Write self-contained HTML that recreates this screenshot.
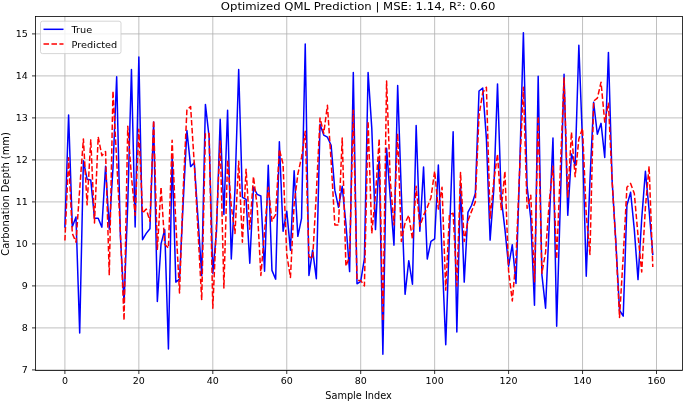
<!DOCTYPE html>
<html><head><meta charset="utf-8"><title>Optimized QML Prediction</title>
<style>
html,body{margin:0;padding:0;background:#fff;}
svg{display:block;}
text{font-family:"DejaVu Sans","Liberation Sans",sans-serif;fill:#000;}
</style></head><body>
<svg width="685" height="402" viewBox="0 0 685 402">
<rect x="0" y="0" width="685" height="402" fill="#fff"/>
<defs><clipPath id="c"><rect x="35.5" y="16.5" width="647.0" height="354.0"/></clipPath></defs>

<g stroke="#b0b0b0" stroke-width="0.8" fill="none">
<line x1="64.90" y1="16.5" x2="64.90" y2="370.5"/>
<line x1="138.85" y1="16.5" x2="138.85" y2="370.5"/>
<line x1="212.80" y1="16.5" x2="212.80" y2="370.5"/>
<line x1="286.75" y1="16.5" x2="286.75" y2="370.5"/>
<line x1="360.70" y1="16.5" x2="360.70" y2="370.5"/>
<line x1="434.65" y1="16.5" x2="434.65" y2="370.5"/>
<line x1="508.60" y1="16.5" x2="508.60" y2="370.5"/>
<line x1="582.55" y1="16.5" x2="582.55" y2="370.5"/>
<line x1="656.50" y1="16.5" x2="656.50" y2="370.5"/>
<line x1="35.5" y1="369.90" x2="682.5" y2="369.90"/>
<line x1="35.5" y1="327.90" x2="682.5" y2="327.90"/>
<line x1="35.5" y1="285.90" x2="682.5" y2="285.90"/>
<line x1="35.5" y1="243.90" x2="682.5" y2="243.90"/>
<line x1="35.5" y1="201.90" x2="682.5" y2="201.90"/>
<line x1="35.5" y1="159.90" x2="682.5" y2="159.90"/>
<line x1="35.5" y1="117.90" x2="682.5" y2="117.90"/>
<line x1="35.5" y1="75.90" x2="682.5" y2="75.90"/>
<line x1="35.5" y1="33.90" x2="682.5" y2="33.90"/>
</g>
<g stroke="#000" stroke-width="0.8" fill="none">
<line x1="64.90" y1="370.5" x2="64.90" y2="374.0"/>
<line x1="138.85" y1="370.5" x2="138.85" y2="374.0"/>
<line x1="212.80" y1="370.5" x2="212.80" y2="374.0"/>
<line x1="286.75" y1="370.5" x2="286.75" y2="374.0"/>
<line x1="360.70" y1="370.5" x2="360.70" y2="374.0"/>
<line x1="434.65" y1="370.5" x2="434.65" y2="374.0"/>
<line x1="508.60" y1="370.5" x2="508.60" y2="374.0"/>
<line x1="582.55" y1="370.5" x2="582.55" y2="374.0"/>
<line x1="656.50" y1="370.5" x2="656.50" y2="374.0"/>
<line x1="32.0" y1="369.90" x2="35.5" y2="369.90"/>
<line x1="32.0" y1="327.90" x2="35.5" y2="327.90"/>
<line x1="32.0" y1="285.90" x2="35.5" y2="285.90"/>
<line x1="32.0" y1="243.90" x2="35.5" y2="243.90"/>
<line x1="32.0" y1="201.90" x2="35.5" y2="201.90"/>
<line x1="32.0" y1="159.90" x2="35.5" y2="159.90"/>
<line x1="32.0" y1="117.90" x2="35.5" y2="117.90"/>
<line x1="32.0" y1="75.90" x2="35.5" y2="75.90"/>
<line x1="32.0" y1="33.90" x2="35.5" y2="33.90"/>
</g>
<g clip-path="url(#c)" fill="none" stroke-linejoin="round">
<path d="M64.90,227.10 L68.60,114.96 L72.30,226.68 L75.99,217.02 L79.69,332.94 L83.39,160.74 L87.09,179.22 L90.78,180.06 L94.48,218.28 L98.18,218.28 L101.88,227.10 L105.57,166.20 L109.27,229.20 L112.97,168.30 L116.67,76.74 L120.36,235.50 L124.06,302.70 L127.76,204.00 L131.45,69.60 L135.15,227.10 L138.85,57.00 L142.55,239.70 L146.25,233.40 L149.94,228.78 L153.64,122.10 L157.34,301.44 L161.03,243.90 L164.73,229.62 L168.43,348.90 L172.13,155.70 L175.82,282.12 L179.52,279.18 L183.22,201.90 L186.92,130.50 L190.62,166.62 L194.31,162.84 L198.01,218.70 L201.71,275.40 L205.41,104.46 L209.10,136.80 L212.80,273.30 L216.50,231.30 L220.19,119.16 L223.89,214.50 L227.59,110.34 L231.29,259.02 L234.98,189.30 L238.68,69.60 L242.38,197.28 L246.08,199.38 L249.78,263.22 L253.47,187.20 L257.17,194.34 L260.87,196.02 L264.56,271.20 L268.26,165.36 L271.96,270.36 L275.66,279.18 L279.36,141.84 L283.05,231.30 L286.75,211.14 L290.45,250.20 L294.14,170.82 L297.84,236.34 L301.54,218.28 L305.24,43.98 L308.94,275.40 L312.63,250.20 L316.33,278.76 L320.03,124.20 L323.73,135.12 L327.42,137.22 L331.12,145.20 L334.82,190.14 L338.51,207.36 L342.21,186.36 L345.91,223.74 L349.61,271.62 L353.30,72.54 L357.00,283.80 L360.70,281.28 L364.40,258.60 L368.10,72.54 L371.79,128.40 L375.49,229.62 L379.19,157.38 L382.88,354.36 L386.58,148.14 L390.28,197.70 L393.98,245.16 L397.67,85.56 L401.37,193.50 L405.07,294.30 L408.77,260.70 L412.47,284.22 L416.16,125.46 L419.86,231.30 L423.56,167.04 L427.25,259.02 L430.95,241.38 L434.65,238.86 L438.35,164.94 L442.04,254.40 L445.74,344.70 L449.44,235.50 L453.14,131.76 L456.84,332.10 L460.53,185.10 L464.23,282.12 L467.93,212.40 L471.62,205.26 L475.32,193.50 L479.02,91.02 L482.72,88.08 L486.41,138.90 L490.11,240.12 L493.81,189.30 L497.51,83.88 L501.20,197.70 L504.90,229.20 L508.60,266.16 L512.30,244.74 L516.00,283.38 L519.69,168.30 L523.39,32.64 L527.09,186.36 L530.78,218.70 L534.48,305.22 L538.18,76.32 L541.88,274.56 L545.57,308.16 L549.27,222.90 L552.97,138.06 L556.67,326.22 L560.37,201.90 L564.06,74.22 L567.76,215.34 L571.46,154.02 L575.15,165.36 L578.85,45.24 L582.55,143.10 L586.25,276.24 L589.94,180.90 L593.64,102.36 L597.34,134.28 L601.04,123.36 L604.73,157.38 L608.43,52.38 L612.13,180.90 L615.83,241.38 L619.52,310.26 L623.22,316.14 L626.92,205.26 L630.62,192.24 L634.31,229.62 L638.01,279.60 L641.71,218.70 L645.41,171.24 L649.10,210.30 L652.80,254.40" stroke="#0000ff" stroke-width="1.5" stroke-linecap="square"/>
<path d="M64.90,240.54 L68.60,157.80 L72.30,233.40 L75.99,242.22 L79.69,189.30 L83.39,138.90 L87.09,204.84 L90.78,139.74 L94.48,222.90 L98.18,136.80 L101.88,155.70 L105.57,151.50 L109.27,275.40 L112.97,91.02 L116.67,159.90 L120.36,231.30 L124.06,320.34 L127.76,126.30 L131.45,176.70 L135.15,215.34 L138.85,129.24 L142.55,213.24 L146.25,209.04 L149.94,221.22 L153.64,120.42 L157.34,249.36 L161.03,187.20 L164.73,244.32 L168.43,248.10 L172.13,140.16 L175.82,222.90 L179.52,293.04 L183.22,189.30 L186.92,109.50 L190.62,106.56 L194.31,164.10 L198.01,231.30 L201.71,300.18 L205.41,133.44 L209.10,133.44 L212.80,308.16 L216.50,222.90 L220.19,141.00 L223.89,288.00 L227.59,159.90 L231.29,206.10 L234.98,233.40 L238.68,161.16 L242.38,242.22 L246.08,169.14 L249.78,229.20 L253.47,176.70 L257.17,206.10 L260.87,275.40 L264.56,231.30 L268.26,187.20 L271.96,221.22 L275.66,214.50 L279.36,149.40 L283.05,164.10 L286.75,254.40 L290.45,277.50 L294.14,204.00 L297.84,174.18 L301.54,157.38 L305.24,131.34 L308.94,256.50 L312.63,258.60 L316.33,193.50 L320.03,117.90 L323.73,133.44 L327.42,105.30 L331.12,161.16 L334.82,225.00 L338.51,225.00 L342.21,138.06 L345.91,266.16 L349.61,256.50 L353.30,110.34 L357.00,280.44 L360.70,280.44 L364.40,285.90 L368.10,121.26 L371.79,233.40 L375.49,195.18 L379.19,138.90 L382.88,321.18 L386.58,80.94 L390.28,180.90 L393.98,225.00 L397.67,133.44 L401.37,241.38 L405.07,222.90 L408.77,215.34 L412.47,239.28 L416.16,186.36 L419.86,226.26 L423.56,215.34 L427.25,207.36 L430.95,197.70 L434.65,171.24 L438.35,209.04 L442.04,187.20 L445.74,290.10 L449.44,214.50 L453.14,213.24 L456.84,285.90 L460.53,172.50 L464.23,241.38 L467.93,220.80 L471.62,211.14 L475.32,201.90 L479.02,115.38 L482.72,92.70 L486.41,87.24 L490.11,218.70 L493.81,180.90 L497.51,154.02 L501.20,210.30 L504.90,171.24 L508.60,271.20 L512.30,301.02 L516.00,258.60 L519.69,168.30 L523.39,87.24 L527.09,208.20 L530.78,195.18 L534.48,281.70 L538.18,116.22 L541.88,273.30 L545.57,252.30 L549.27,201.90 L552.97,166.20 L556.67,259.02 L560.37,168.30 L564.06,78.00 L567.76,197.70 L571.46,132.18 L575.15,176.70 L578.85,138.90 L582.55,128.40 L586.25,214.50 L589.94,254.40 L593.64,101.10 L597.34,98.16 L601.04,82.20 L604.73,122.10 L608.43,103.20 L612.13,180.90 L615.83,243.90 L619.52,317.40 L623.22,256.50 L626.92,187.20 L630.62,183.42 L634.31,193.50 L638.01,235.50 L641.71,272.04 L645.41,207.36 L649.10,166.20 L652.80,267.00" stroke="#ff0000" stroke-width="1.5" stroke-dasharray="5.55 2.4"/>
</g>
<rect x="35.5" y="16.5" width="647.0" height="354.0" fill="none" stroke="#000" stroke-width="0.8"/>
<g font-size="9.5">
<text x="64.90" y="384.1" text-anchor="middle">0</text>
<text x="138.85" y="384.1" text-anchor="middle">20</text>
<text x="212.80" y="384.1" text-anchor="middle">40</text>
<text x="286.75" y="384.1" text-anchor="middle">60</text>
<text x="360.70" y="384.1" text-anchor="middle">80</text>
<text x="434.65" y="384.1" text-anchor="middle">100</text>
<text x="508.60" y="384.1" text-anchor="middle">120</text>
<text x="582.55" y="384.1" text-anchor="middle">140</text>
<text x="656.50" y="384.1" text-anchor="middle">160</text>
<text x="27.9" y="373.40" text-anchor="end">7</text>
<text x="27.9" y="331.40" text-anchor="end">8</text>
<text x="27.9" y="289.40" text-anchor="end">9</text>
<text x="27.9" y="247.40" text-anchor="end">10</text>
<text x="27.9" y="205.40" text-anchor="end">11</text>
<text x="27.9" y="163.40" text-anchor="end">12</text>
<text x="27.9" y="121.40" text-anchor="end">13</text>
<text x="27.9" y="79.40" text-anchor="end">14</text>
<text x="27.9" y="37.40" text-anchor="end">15</text>
</g>
<text x="358.5" y="399.0" font-size="9.75" text-anchor="middle">Sample Index</text>
<text transform="translate(8.8,194.0) rotate(-90)" font-size="9.85" text-anchor="middle">Carbonation Depth (mm)</text>
<text transform="translate(358.1,10.3) scale(1,0.94)" font-size="11.68" text-anchor="middle">Optimized QML Prediction | MSE: 1.14, R²: 0.60</text>
<rect x="40.5" y="21.2" width="80.5" height="32.4" rx="2" ry="2" fill="#fff" fill-opacity="0.8" stroke="#ccc" stroke-opacity="0.8" stroke-width="1"/>
<line x1="43.5" y1="29.3" x2="63.5" y2="29.3" stroke="#0000ff" stroke-width="1.5"/>
<line x1="43.5" y1="44" x2="63.5" y2="44" stroke="#ff0000" stroke-width="1.5" stroke-dasharray="5.55 2.4"/>
<text transform="translate(71.5,32.8) scale(1,0.93)" font-size="9.75">True</text>
<text transform="translate(71.5,47.5) scale(1,0.93)" font-size="9.75">Predicted</text>
</svg></body></html>
